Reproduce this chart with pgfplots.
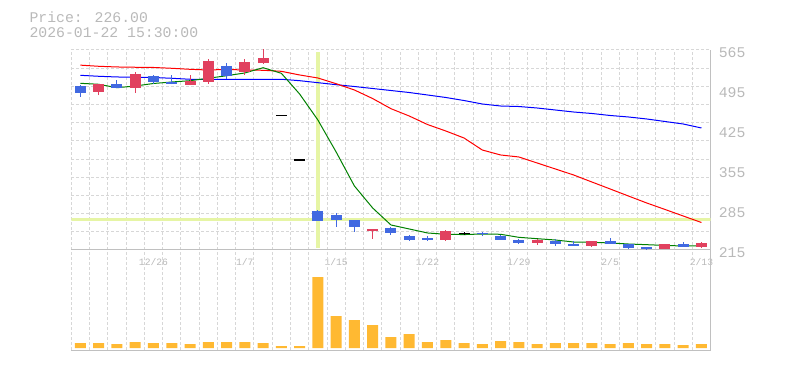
\documentclass[border=0pt]{standalone}
\usepackage{fontspec}
\usepackage{pgfplots}
\usepackage{pgfplotstable}
\pgfplotsset{compat=1.18}
\newfontfamily\mono{Liberation Mono}
\definecolor{labelgray}{RGB}{185,185,185}
\definecolor{axisgray}{RGB}{192,192,192}
\definecolor{gridgray}{RGB}{215,215,215}
\definecolor{candleblue}{RGB}{65,105,225}
\definecolor{candlered}{RGB}{225,65,95}
\definecolor{volorange}{RGB}{255,185,50}
\definecolor{crossc}{RGB}{230,245,165}
\definecolor{magreen}{RGB}{0,128,0}

\pgfplotstableread{
i lo hi bot top
0 483 504 490.3 502
2 498 513 499 505.5
4 506 522 509.5 519.5
5 505 521 505.5 508.5
8 514 542 519.5 537
13 266.5 285 266.5 283.5
14 256 280 268 276.5
15 246.5 267.5 256 267.5
17 242 255 245.5 253.5
18 231 242 232.5 239.5
19 231 239.5 232.5 236
22 239 246.5 242.5 244
23 232.5 242 232.5 239.5
24 226 234 228 232.5
26 222.5 234 225.5 231
27 222.5 231 222.5 226
29 226 236 226 231
30 217 225.5 219 225.5
31 214.5 220.5 217.5 220.5
33 221 229 221 225.5
}\blueC

\pgfplotstableread{
i lo hi bot top
1 486 505.5 492 505.5
3 490 527 499 523
6 504 521 504 510
7 505.5 550 509.5 546
9 521 549 526.5 544
10 540.5 566 542 551
16 235 252 248.5 252
20 231 250 232.5 248.5
25 224 234 227.5 232.5
28 220 231 222 231
32 217.5 226 217.5 225.5
34 219 229 221 227
}\redC

\pgfplotstableread{
i lo hi bot top
11 450.6 450.6 449.7 451.5
12 372.5 372.5 371.6 373.4
21 241 246.5 243.6 244.4
}\blackC

\pgfplotstableread{
i green red blue
0 506.7 538.5 520.7
1 505 536.5 519
2 499 535.3 517.8
3 502 534.8 517.2
4 506.4 534.4 516.9
5 509 533 515.5
6 511.3 531.2 513.8
7 515.5 530 513.8
8 520 531 513.8
9 524.8 530 513.8
10 534 529.5 513.8
11 524.2 527.7 513.8
12 488 521.3 511.3
13 442.5 516 507.8
14 386.5 506 504.3
15 327 495 501.1
16 288.5 480 497.6
17 258.8 462.3 494.1
18 251.8 449.5 490.6
19 244.8 434.6 486.3
20 242.5 423.3 481.9
21 242 411 476.6
22 243 390 470.5
23 242.5 381.3 467
24 237.2 377.8 466.1
25 234.8 367.3 463.5
26 232.5 356.8 460
27 229 346.3 456.5
28 228.5 334 453.9
29 227.3 321.8 450.4
30 225.5 309.5 447.8
31 224.3 297.3 444.3
32 223 286 439.9
33 222 274.5 435.5
34 222 263.1 428.5
}\ma

\pgfplotstableread{
i vol
0 5
1 5
2 4
3 6
4 5
5 5
6 4
7 6
8 6
9 6
10 5
11 2
12 2
13 71
14 32
15 28
16 23
17 11
18 14
19 6
20 8
21 5
22 4
23 7
24 6
25 4
26 5
27 5
28 5
29 4
30 5
31 4
32 4
33 3
34 4
}\vol

\begin{document}
\begin{tikzpicture}
\useasboundingbox (0,0) rectangle (785bp,370bp);
\node[anchor=base west, inner sep=0pt, text=labelgray, font=\mono\fontsize{14.8bp}{16bp}\selectfont] at (29.3bp,347.3bp) {Price: 226.00};
\node[anchor=base west, inner sep=0pt, text=labelgray, font=\mono\fontsize{14.8bp}{16bp}\selectfont] at (29.3bp,332.3bp) {2026-01-22 15:30:00};

\begin{axis}[
  at={(71.3bp,120bp)}, anchor=south west, scale only axis,
  width=639.3bp, height=200bp,
  xmin=-0.5, xmax=34.5, ymin=215, ymax=565,
  enlargelimits=false,
  axis x line*=bottom, axis y line*=right,
  axis line style={draw=axisgray, line width=1bp},
  xtick={-0.5,0.5,...,33.5}, xticklabels={},
  xmajorgrids,
  ytick={215,285,355,425,495,565},
  yticklabels={215,285,355,425,495,565},
  yticklabel style={font=\mono\fontsize{14.8bp}{16bp}\selectfont, text=labelgray, anchor=west, inner sep=0pt, xshift=8bp, yshift=-3bp},
  extra y ticks={565,533.18,501.36,469.55,437.73,405.91,374.09,342.27,310.45,278.64,246.82},
  extra y tick labels={},
  extra y tick style={grid=major},
  extra x ticks={4,9,14,19,24,29,34},
  extra x tick labels={12/26,1/7,1/15,1/22,1/29,2/5,2/13},
  extra x tick style={grid=none},
  xticklabel style={font=\mono\fontsize{9.7bp}{11bp}\selectfont, text=labelgray, anchor=center, inner sep=0pt, yshift=-12bp},
  major tick length=0pt, tick style={draw=none},
  grid style={gridgray, dash pattern=on 3bp off 2bp, line width=1bp},
]
\addplot[crossc, line width=3.3bp] coordinates {(13,218.5) (13,562)};
\addplot[crossc, line width=3bp] coordinates {(-0.5,267.5) (34.5,267.5)};
\addplot[blue, line width=1bp] table[x=i, y=blue] {\ma};
\addplot[red, line width=1bp] table[x=i, y=red] {\ma};
\addplot[magreen, line width=1bp] table[x=i, y=green] {\ma};
% wicks
\addplot[candleblue, -, line width=1bp, quiver={u=0, v=\thisrow{hi}-\thisrow{lo}}] table[x=i, y=lo] {\blueC};
\addplot[candlered, -, line width=1bp, quiver={u=0, v=\thisrow{hi}-\thisrow{lo}}] table[x=i, y=lo] {\redC};
\addplot[black, -, line width=1bp, quiver={u=0, v=\thisrow{hi}-\thisrow{lo}}] table[x=i, y=lo] {\blackC};
% bodies
\addplot[candleblue, -, line width=11bp, quiver={u=0, v=\thisrow{top}-\thisrow{bot}}] table[x=i, y=bot] {\blueC};
\addplot[candlered, -, line width=11bp, quiver={u=0, v=\thisrow{top}-\thisrow{bot}}] table[x=i, y=bot] {\redC};
\addplot[black, -, line width=11bp, quiver={u=0, v=\thisrow{top}-\thisrow{bot}}] table[x=i, y=bot] {\blackC};
\end{axis}

\begin{axis}[
  at={(71.3bp,20bp)}, anchor=south west, scale only axis,
  width=639.3bp, height=100bp,
  xmin=-0.5, xmax=34.5, ymin=-2, ymax=98,
  enlargelimits=false,
  axis x line*=bottom, axis y line*=right,
  axis line style={draw=axisgray, line width=1bp},
  xtick={-0.5,0.5,...,33.5}, xticklabels={},
  xmajorgrids,
  ytick=\empty,
  major tick length=0pt, tick style={draw=none},
  grid style={gridgray, dash pattern=on 3bp off 2bp, line width=1bp},
]
\addplot[ybar, bar width=11bp, fill=volorange, draw=none] table[x=i, y=vol] {\vol};
\end{axis}
\end{tikzpicture}
\end{document}
